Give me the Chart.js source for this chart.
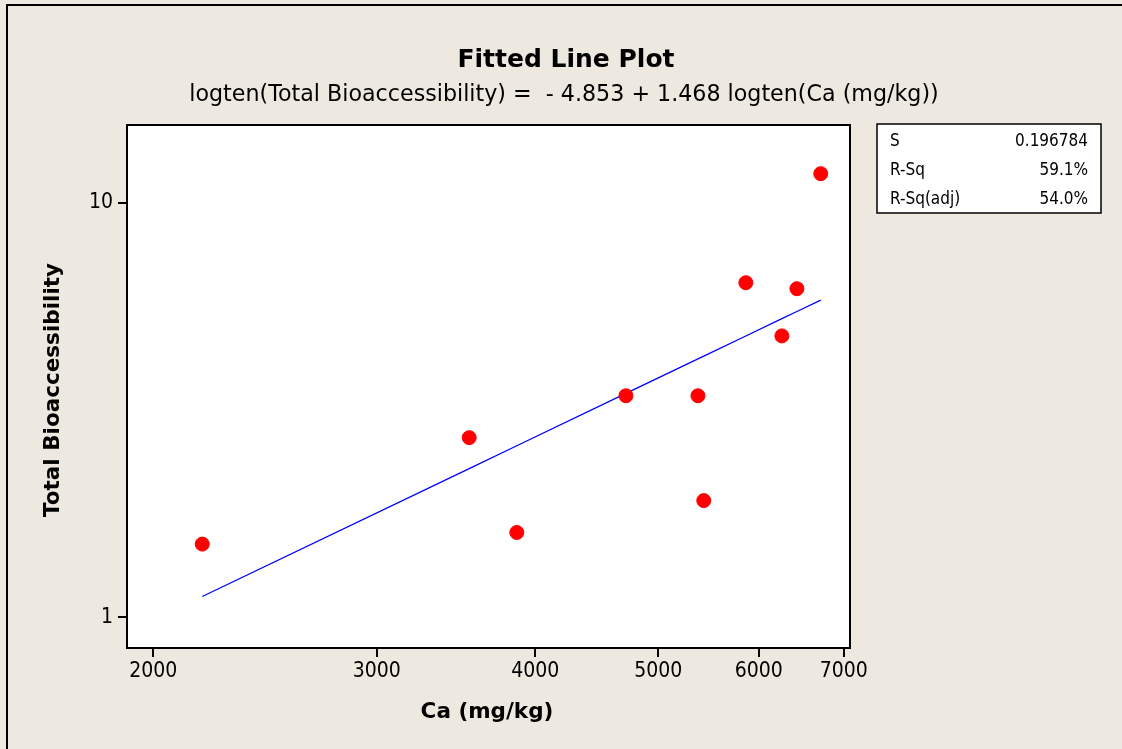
<!DOCTYPE html>
<html>
<head>
<meta charset="utf-8">
<script src="https://cdn.jsdelivr.net/npm/chart.js@4/dist/chart.umd.min.js"></script>
<style>
  html, body { margin: 0; padding: 0; background: #EDE9E0; }
  #wrap { width: 1122px; height: 749px; position: relative; }
</style>
</head>
<body>
<div id="wrap"><canvas id="c" width="1122" height="749"></canvas></div>
<script>
// Observations: Ca (mg/kg) vs Total Bioaccessibility
const caValues = [2186, 3548, 3868, 4715, 5373, 5430, 5861, 6257, 6430, 6714];
const bioValues = [1.50, 2.71, 1.60, 3.42, 3.42, 1.91, 6.41, 4.77, 6.20, 11.75];

// Regression on log10 scales
const intercept = -4.853;
const slope = 1.468;

const xTicks = [2000, 3000, 4000, 5000, 6000, 7000];
const yTicks = [1, 10];

const statLabels = ['S', 'R-Sq', 'R-Sq(adj)'];
const statValues = ['0.196784', '59.1%', '54.0%'];

const titleText = 'Fitted Line Plot';
const subtitleText = 'logten(Total Bioaccessibility) =  - 4.853 + 1.468 logten(Ca (mg/kg))';
const xTitle = 'Ca (mg/kg)';
const yTitle = 'Total Bioaccessibility';

const FONT = '"DejaVu Sans Condensed", "DejaVu Sans", sans-serif';
const FONT_WIDE = '"DejaVu Sans", sans-serif';

const points = caValues.map((x, i) => ({ x: x, y: bioValues[i] }));
const fitLine = caValues.slice().sort((a, b) => a - b)
  .map(x => ({ x: x, y: Math.pow(10, intercept + slope * Math.log10(x)) }));

const decor = {
  id: 'decor',
  beforeDraw(chart) {
    const ctx = chart.ctx;
    ctx.save();
    ctx.fillStyle = '#EDE9E0';
    ctx.fillRect(0, 0, chart.width, chart.height);
    // outer frame
    ctx.strokeStyle = '#000';
    ctx.lineWidth = 2;
    ctx.beginPath();
    ctx.moveTo(7, 760);
    ctx.lineTo(7, 5);
    ctx.lineTo(1130, 5);
    ctx.stroke();
    // plot area background
    const a = chart.chartArea;
    ctx.fillStyle = '#FFFFFF';
    ctx.fillRect(a.left, a.top, a.right - a.left, a.bottom - a.top);
    ctx.restore();
  },
  afterDraw(chart) {
    const ctx = chart.ctx;
    const a = chart.chartArea;
    ctx.save();
    // plot frame
    ctx.strokeStyle = '#000';
    ctx.lineWidth = 2;
    ctx.strokeRect(a.left, a.top, a.right - a.left, a.bottom - a.top);

    ctx.fillStyle = '#000';
    ctx.textBaseline = 'middle';
    ctx.textAlign = 'center';
    ctx.font = 'bold 25px ' + FONT_WIDE;
    ctx.fillText(titleText, 566, 60);
    ctx.font = '22.2px ' + FONT_WIDE;
    ctx.fillText(subtitleText, 564, 95);

    // axis titles
    ctx.font = 'bold 21.5px ' + FONT_WIDE;
    ctx.fillText(xTitle, 487, 712);
    ctx.save();
    ctx.translate(53, 390);
    ctx.rotate(-Math.PI / 2);
    ctx.fillText(yTitle, 0, 0);
    ctx.restore();

    // statistics box
    ctx.fillStyle = '#FFFFFF';
    ctx.fillRect(877, 124, 224, 89);
    ctx.strokeStyle = '#000';
    ctx.lineWidth = 1.5;
    ctx.strokeRect(877, 124, 224, 89);
    ctx.fillStyle = '#000';
    ctx.font = '17px ' + FONT;
    statLabels.forEach((lab, i) => {
      const y = 142 + i * 29;
      ctx.textAlign = 'left';
      ctx.fillText(lab, 890, y);
      ctx.textAlign = 'right';
      ctx.fillText(statValues[i], 1088, y);
    });
    ctx.restore();
  }
};

new Chart(document.getElementById('c'), {
  type: 'scatter',
  data: {
    datasets: [
      {
        type: 'line',
        data: fitLine,
        borderColor: '#0000FF',
        borderWidth: 1.3,
        pointRadius: 0,
        fill: false,
        tension: 0,
        order: 2
      },
      {
        data: points,
        backgroundColor: '#FF0000',
        borderColor: '#FF0000',
        pointRadius: 7,
        pointHoverRadius: 7,
        order: 1
      }
    ]
  },
  options: {
    responsive: false,
    animation: false,
    devicePixelRatio: 1,
    layout: { padding: { left: 0, top: 125, right: 272, bottom: 0 } },
    plugins: {
      legend: { display: false },
      tooltip: { enabled: false },
      title: { display: false }
    },
    scales: {
      x: {
        type: 'logarithmic',
        min: 1907,
        max: 7080,
        afterBuildTicks: s => { s.ticks = xTicks.map(v => ({ value: v })); },
        afterFit: s => { s.height = 101; },
        grid: { drawOnChartArea: false, drawTicks: true, tickLength: 9, color: '#000', lineWidth: 2 },
        border: { display: false },
        ticks: {
          color: '#000',
          font: { family: FONT, size: 21 },
          padding: 2,
          maxRotation: 0,
          autoSkip: false,
          callback: v => String(v)
        }
      },
      y: {
        type: 'logarithmic',
        min: 0.842,
        max: 15.4,
        afterBuildTicks: s => { s.ticks = yTicks.map(v => ({ value: v })); },
        afterFit: s => { s.width = 127; },
        grid: { drawOnChartArea: false, drawTicks: true, tickLength: 9, color: '#000', lineWidth: 2 },
        border: { display: false },
        ticks: {
          color: '#000',
          font: { family: FONT, size: 21 },
          padding: 5,
          autoSkip: false,
          callback: v => String(v)
        }
      }
    }
  },
  plugins: [decor]
});
</script>
</body>
</html>
